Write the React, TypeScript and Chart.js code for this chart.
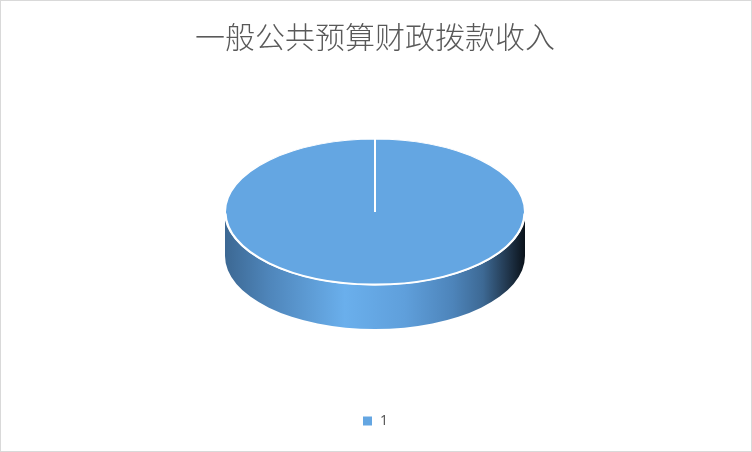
import React, { useEffect, useRef } from 'react'
import Chart from 'chart.js/auto'

const title = '一般公共预算财政拨款收入'
const labels = ['1']
const values = [100]

const topColor = '#64a6e2'
const TILT = 0.487 // vertical squash of the pie top
const DEPTH = 44 // thickness of the pie side

const arcGeometry = (chart: any) => {
  const arc = chart.getDatasetMeta(0).data[0]
  if (!arc) return null
  const { x, y, outerRadius } = arc.getProps(['x', 'y', 'outerRadius'], true)
  return { x, y, r: outerRadius, cy: y - DEPTH / 2 }
}

// 3D look: squash the pie and paint a shaded side band under it
const pie3d = {
  id: 'pie3d',
  beforeDatasetsDraw(chart: any) {
    const g = arcGeometry(chart)
    const ctx = chart.ctx as CanvasRenderingContext2D
    ctx.save()
    if (!g) return
    const { x, y, r, cy } = g
    const ry = r * TILT

    const grad = ctx.createLinearGradient(x - r, 0, x + r, 0)
    grad.addColorStop(0, '#3c6893')
    grad.addColorStop(0.15, '#4f86bb')
    grad.addColorStop(0.4, '#6aafec')
    grad.addColorStop(0.6, '#5f9fdb')
    grad.addColorStop(0.76, '#4d84ba')
    grad.addColorStop(0.86, '#3d6994')
    grad.addColorStop(0.94, '#22384f')
    grad.addColorStop(1, '#0a121a')
    ctx.fillStyle = grad
    ctx.beginPath()
    ctx.ellipse(x, cy, r, ry, 0, 0, Math.PI)
    ctx.lineTo(x - r, cy + DEPTH)
    ctx.ellipse(x, cy + DEPTH, r, ry, 0, Math.PI, 0, true)
    ctx.closePath()
    ctx.fill()

    ctx.translate(0, cy)
    ctx.scale(1, TILT)
    ctx.translate(0, -y)
  },
  afterDatasetsDraw(chart: any) {
    const ctx = chart.ctx as CanvasRenderingContext2D
    ctx.restore()
    const g = arcGeometry(chart)
    if (!g) return
    // crisp white rim along the front edge of the top
    ctx.save()
    ctx.strokeStyle = '#ffffff'
    ctx.lineWidth = 2
    ctx.beginPath()
    ctx.ellipse(g.x, g.cy, g.r - 0.5, g.r * TILT - 0.5, 0, 0.02, Math.PI - 0.02)
    ctx.stroke()
    ctx.restore()
  }
}

const App: React.FC = () => {
  const chartRef = useRef<HTMLCanvasElement | null>(null)
  const chartInstance = useRef<Chart | null>(null)

  useEffect(() => {
    document.body.style.margin = '0'
    if (chartRef.current === null) return
    if (chartInstance.current !== null) chartInstance.current.destroy()

    chartInstance.current = new Chart(chartRef.current, {
      type: 'pie',
      data: {
        labels,
        datasets: [
          {
            data: values,
            backgroundColor: topColor,
            borderColor: '#ffffff',
            borderWidth: 2,
            radius: 150,
            clip: false
          }
        ]
      },
      options: {
        responsive: true,
        maintainAspectRatio: false,
        animation: false,
        layout: { padding: { top: 0, bottom: 13, left: 0, right: 2 } },
        plugins: {
          title: {
            display: true,
            text: title,
            color: '#595959',
            font: { family: '"Noto Sans CJK SC", sans-serif', size: 30, weight: 300, lineHeight: 1.2 },
            padding: { top: 18, bottom: 9 }
          },
          legend: {
            position: 'bottom',
            labels: {
              color: '#595959',
              font: { family: '"Noto Sans", sans-serif', size: 14 },
              usePointStyle: true,
              pointStyle: 'rect',
              boxWidth: 11,
              boxHeight: 11,
              padding: 10
            }
          },
          tooltip: { enabled: false }
        }
      },
      plugins: [pie3d]
    })

    return () => {
      if (chartInstance.current !== null) {
        chartInstance.current.destroy()
        chartInstance.current = null
      }
    }
  }, [])

  return (
    <div
      style={{
        width: 752,
        height: 452,
        boxSizing: 'border-box',
        border: '1px solid #d9d9d9',
        background: '#ffffff',
        position: 'relative'
      }}
    >
      <canvas ref={chartRef} />
    </div>
  )
}

export default App
